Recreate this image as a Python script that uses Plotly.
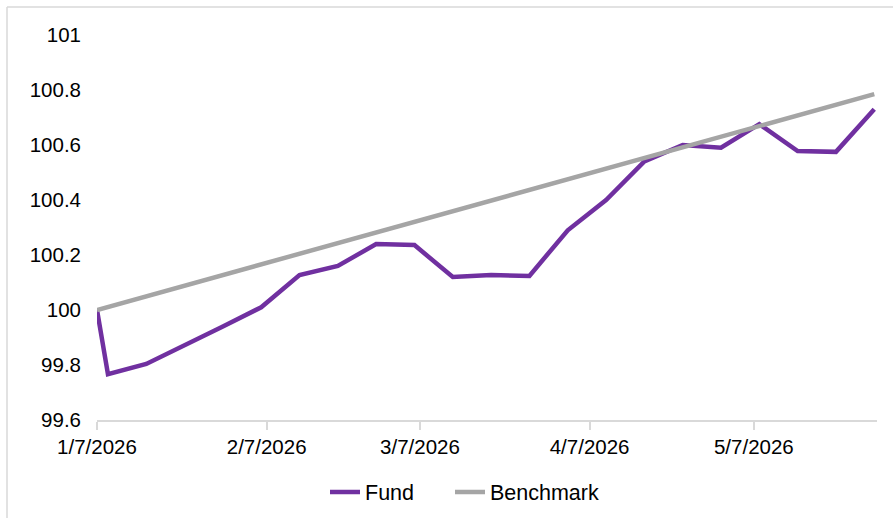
import plotly.graph_objects as go

# Weekly observation dates
dates = [
    "2026-01-07", "2026-01-09", "2026-01-16", "2026-01-23", "2026-01-30",
    "2026-02-06", "2026-02-13", "2026-02-20", "2026-02-27", "2026-03-06",
    "2026-03-13", "2026-03-20", "2026-03-27", "2026-04-03", "2026-04-10",
    "2026-04-17", "2026-04-24", "2026-05-01", "2026-05-08", "2026-05-15",
    "2026-05-22", "2026-05-29",
]

fund = [
    100.00, 99.767, 99.804, 99.87, 99.94,
    100.01, 100.127, 100.16, 100.24, 100.236,
    100.12, 100.127, 100.124, 100.29, 100.40,
    100.54, 100.60, 100.59, 100.676, 100.578,
    100.575, 100.73,
]

benchmark = [
    100.000, 100.011, 100.050, 100.088, 100.127,
    100.166, 100.205, 100.243, 100.282, 100.321,
    100.359, 100.398, 100.437, 100.475, 100.514,
    100.553, 100.592, 100.630, 100.669, 100.708,
    100.746, 100.785,
]

x_tick_vals = ["2026-01-07", "2026-02-07", "2026-03-07", "2026-04-07", "2026-05-07"]
x_tick_text = ["1/7/2026", "2/7/2026", "3/7/2026", "4/7/2026", "5/7/2026"]

y_tick_vals = [99.6, 99.8, 100.0, 100.2, 100.4, 100.6, 100.8, 101.0]
y_tick_text = ["99.6", "99.8", "100", "100.2", "100.4", "100.6", "100.8", "101"]

FONT = "Liberation Sans, Arial, sans-serif"
W, H = 893, 518
L, R, T, B = 97, 16, 35, 98
pw, ph = W - L - R, H - T - B

fig = go.Figure()
fig.add_trace(go.Scatter(
    x=dates, y=fund, name="Fund", mode="lines",
    line=dict(color="#7030A0", width=4.5), legend="legend",
))
fig.add_trace(go.Scatter(
    x=dates, y=benchmark, name="Benchmark", mode="lines",
    line=dict(color="#A5A5A5", width=4.5), legend="legend2",
))

# Chart-area frame (top and left edges)
fx0 = (7 - L) / pw
fx1 = (W - L) / pw
fy_top = (H - B - 7) / ph
fy_bot = (H - B - H) / ph
frame = dict(type="line", xref="paper", yref="paper",
             line=dict(color="#D9D9D9", width=1.5), layer="below")
shapes = [
    dict(frame, x0=fx0, x1=fx1, y0=fy_top, y1=fy_top),
    dict(frame, x0=fx0, x1=fx0, y0=fy_top, y1=fy_bot),
]

legend_style = dict(
    orientation="h", xanchor="left",
    y=(H - B - 492) / ph, yanchor="middle",
    font=dict(size=21.5), itemwidth=30,
    bgcolor="rgba(0,0,0,0)",
)

fig.update_layout(
    width=W, height=H,
    margin=dict(l=L, r=R, t=T, b=B, autoexpand=False),
    paper_bgcolor="white", plot_bgcolor="white",
    font=dict(family=FONT, size=20.5, color="#000000"),
    shapes=shapes,
    showlegend=True,
    legend=dict(legend_style, x=(325 - L) / pw),
    legend2=dict(legend_style, x=(450 - L) / pw),
    xaxis=dict(
        type="date",
        range=["2026-01-07", "2026-05-29 12:00"],
        tickvals=x_tick_vals, ticktext=x_tick_text,
        showgrid=False, zeroline=False,
        showline=True, linecolor="#D9D9D9", linewidth=1.5,
        ticks="outside", ticklen=8, tickcolor="#D9D9D9", tickwidth=1.5,
        ticklabelstandoff=0,
        tickfont=dict(size=20.5),
    ),
    yaxis=dict(
        range=[99.6, 101.0],
        tickvals=y_tick_vals, ticktext=y_tick_text,
        showgrid=False, zeroline=False, showline=False,
        ticks="", ticklabelstandoff=15,
        tickfont=dict(size=20.5),
    ),
)

fig.write_html("out.html")
